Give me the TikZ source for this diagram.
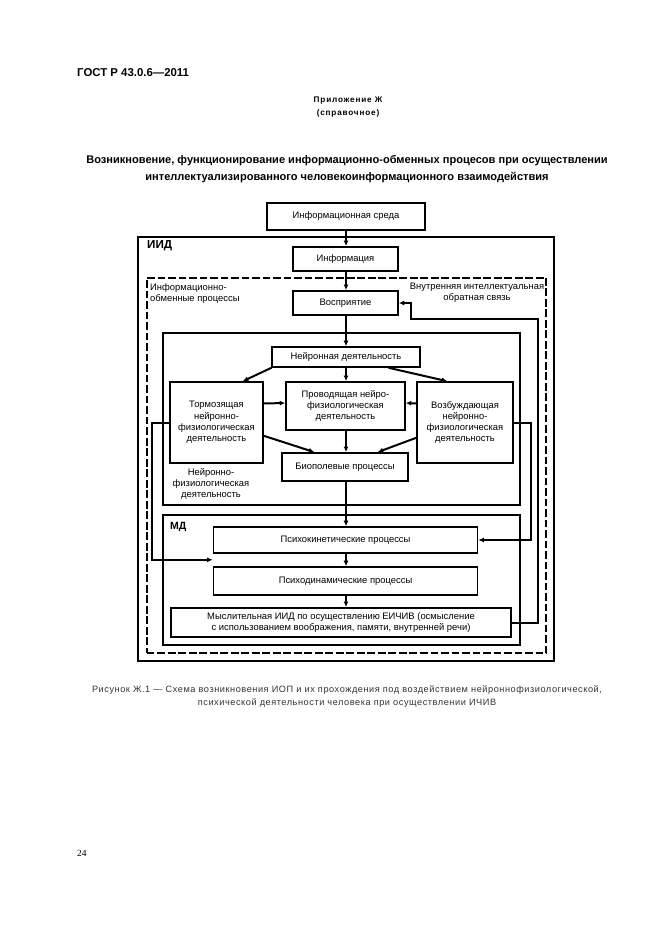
\documentclass[tikz,border=0pt]{standalone}
\usepackage{fontspec}
\setmainfont{Liberation Sans}
\newfontfamily\serifnum{Liberation Serif}
\newfontfamily\spacedA[LetterSpace=10]{Liberation Sans}
\newfontfamily\spacedB[LetterSpace=6]{Liberation Sans}
\usetikzlibrary{arrows.meta,calc}
\newcommand\bx[7]{\node[#7, minimum width={(#4-#2)*0.9006pt}, minimum height={(#5-#3)*0.9006pt}] (#1) at ({(#2+#4)/2},{(#3+#5)/2}) {#6};}
\tikzset{
  box/.style={draw, line width=1.7pt, inner sep=0pt, align=center, font=\fontsize{8.5}{10.2}\selectfont},
  thinbox/.style={draw, line width=1.5pt, inner sep=0pt, align=center, font=\fontsize{8.5}{10.2}\selectfont},
  frame/.style={draw, line width=2.2pt, inner sep=0pt},
  dframe/.style={draw, line width=1.5pt, dash pattern=on 7pt off 2.5pt, inner sep=0pt},
  arr/.style={line width=1.8pt, -{Latex[length=5pt,width=4.5pt]}},
  lbl/.style={inner sep=0pt, align=center, font=\fontsize{8.5}{10.2}\selectfont},
}
\begin{document}
\begin{tikzpicture}[x=0.3177mm,y=-0.3177mm]
\useasboundingbox (0,0) rectangle (661,936);
% page texts
\node[anchor=west, inner sep=0pt, font=\bfseries\fontsize{10.3}{11}\selectfont] (gost) at (77,73) {ГОСТ Р 43.0.6—2011};
\node[inner sep=0pt, font=\spacedA\bfseries\fontsize{7.4}{11}\selectfont] (app) at (348,101) {Приложение Ж};
\node[inner sep=0pt, font=\spacedA\bfseries\fontsize{7.4}{11}\selectfont] (ref) at (348,113) {(справочное)};
\node[inner sep=0pt, font=\bfseries\fontsize{10}{11}\selectfont] (t1) at (347,161) {Возникновение, функционирование информационно-обменных процесов при осуществлении};
\node[inner sep=0pt, font=\bfseries\fontsize{10}{11}\selectfont] (t2) at (347,178) {интеллектуализированного человекоинформационного взаимодействия};
\node[inner sep=0pt, text=black!80, font=\spacedB\fontsize{8.3}{11}\selectfont] (c1) at (347,690) {Рисунок Ж.1 — Схема возникновения ИОП и их прохождения под воздействием нейроннофизиологической,};
\node[inner sep=0pt, text=black!80, font=\spacedB\fontsize{8.3}{11}\selectfont] (c2) at (347,703) {психической деятельности человека при осуществлении ИЧИВ};
\node[anchor=west, inner sep=0pt, font=\serifnum\fontsize{8.5}{10}\selectfont] (pg) at (77,853) {24};

% frames
\bx{iid}{137}{236}{555}{662}{}{frame}
\bx{dash}{146}{277}{547}{654}{}{dframe}
\bx{nf}{162}{333}{521}{505}{}{box}
\bx{md}{162}{515}{521}{645}{}{box}

% boxes
\bx{top}{267}{203}{425}{230}{Информационная среда}{box}
\bx{info}{293}{247}{398}{271}{Информация}{box}
\bx{perc}{293}{291}{398}{315}{Восприятие}{box}
\bx{na}{272}{347}{420}{367}{Нейронная деятельность}{thinbox}
\bx{T}{170}{382}{263}{463}{Тормозящая\\нейронно-\\физиологическая\\деятельность}{box}
\bx{P}{286}{382}{405}{430}{Проводящая нейро-\\физиологическая\\деятельность}{box}
\bx{V}{417}{382}{513}{463}{Возбуждающая\\нейронно-\\физиологическая\\деятельность}{box}
\bx{B}{282}{453}{408}{481}{Биополевые процессы}{box}
\bx{pk}{213}{527}{478}{553}{Психокинетические процессы}{thinbox}
\bx{pd}{213}{567}{478}{595}{Психодинамические процессы}{thinbox}
\bx{M}{170}{608}{512}{637}{Мыслительная ИИД по осуществлению ЕИЧИВ (осмысление\\с использованием воображения, памяти, внутренней речи)}{box}

% labels
\node[anchor=west, inner sep=0pt, font=\bfseries\fontsize{10.5}{11}\selectfont] (iidl) at (147,246) {ИИД};
\node[anchor=west, inner sep=0pt, font=\bfseries\fontsize{9.5}{11}\selectfont] (mdl) at (170,527) {МД};
\node[lbl, anchor=north west, align=left] (iol) at (150,283) {Информационно-\\обменные процессы};
\node[lbl, anchor=north] (fbl) at (477,283) {Внутренняя интеллектуальная\\обратная связь};
\node[lbl, anchor=north] (nfl) at (211,468) {Нейронно-\\физиологическая\\деятельность};

% connectors
\coordinate (cx) at (346,0);
\draw[arr] (cx |- top.south) -- (cx |- info.north);
\draw[arr] (cx |- info.south) -- (cx |- perc.north);
\draw[arr] (cx |- perc.south) -- (cx |- na.north);
\draw[arr] (cx |- na.south) -- (cx |- P.north);
\draw[arr] (na.south west) -- ($(T.north east)+(-21,0)$);
\draw[arr] ($(na.south east)+(-32,0)$) -- ($(V.north west)+(31,0)$);
\draw[arr] ($(T.east)+(0,-19)$) -- ($(P.west)+(0,-3)$);
\draw[arr] ($(V.west)+(0,-19)$) -- ($(P.east)+(0,-3)$);
\draw[arr] ($(T.south east)+(0,-28)$) -- ($(B.north west)+(33,0)$);
\draw[arr] ($(V.south west)+(0,-26)$) -- ($(B.north east)+(-31,0)$);
\draw[arr] (cx |- P.south) -- (cx |- B.north);
\draw[arr] (cx |- B.south) -- (cx |- pk.north);
\draw[arr] (cx |- pk.south) -- (cx |- pd.north);
\draw[arr] (cx |- pd.south) -- (cx |- M.north);
% feedback loops
\coordinate (fb1) at (411,319);
\draw[arr] (M.east) -- ++(26,0) |- (fb1) |- (perc.east);
\coordinate (fbl2) at ($(pk.south west)+(0,6)$);
\draw[arr] (T.west) -- ++(-17,0) |- (fbl2);
\draw[arr] (V.east) -- ++(17,0) |- (pk.east);
\end{tikzpicture}
\end{document}
